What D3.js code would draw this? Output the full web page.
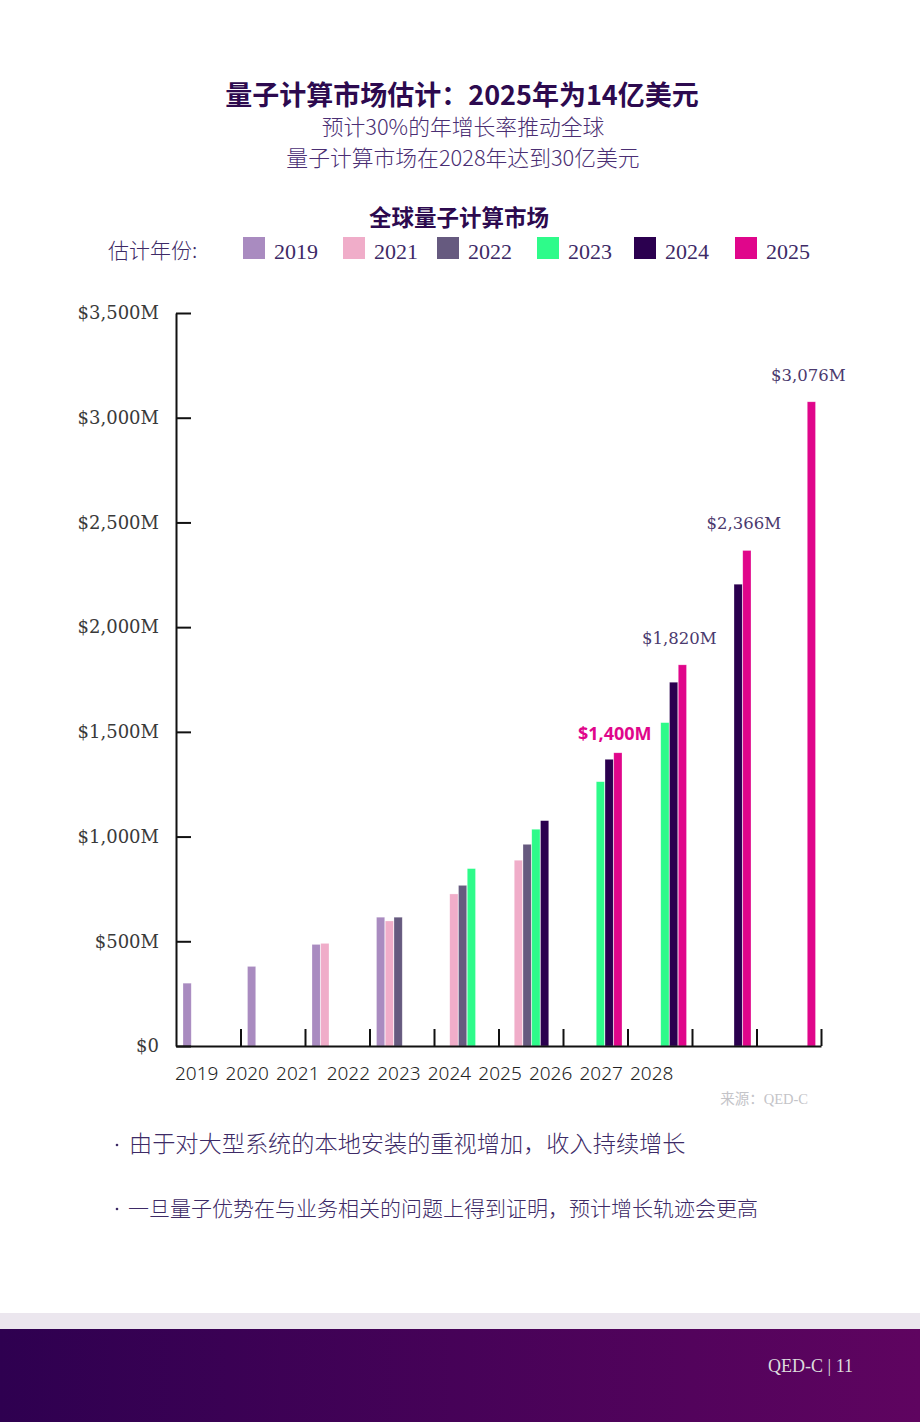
<!DOCTYPE html>
<html>
<head>
<meta charset="utf-8">
<script src="https://cdn.jsdelivr.net/npm/d3@7"></script>
<style>
  body { margin: 0; background: #fff; }
  svg { display: block; }
</style>
</head>
<body>
<svg id="chart" width="920" height="1422"></svg>
<script>
// ---- data ----
const years = ["2019","2020","2021","2022","2023","2024","2025","2026","2027","2028"]
const series = ["2019","2021","2022","2023","2024","2025"]
const seriesColors = ["#a98bc0","#f0adc9","#665a7f","#2efb8a","#2b004f","#e0068b"]
// value per estimate year, indexed by market year (null = no bar)
const est2019 = [300, 380, 485, 615, null, null, null, null, null, null]
const est2021 = [null, null, 490, 597, 726, 887, null, null, null, null]
const est2022 = [null, null, null, 615, 767, 963, null, null, null, null]
const est2023 = [null, null, null, null, 847, 1035, 1262, 1544, null, null]
const est2024 = [null, null, null, null, null, 1076, 1369, 1737, 2205, null]
const est2025 = [null, null, null, null, null, null, 1400, 1820, 2366, 3076]
const yTicks = [0, 500, 1000, 1500, 2000, 2500, 3000, 3500]
const bullets = [
  "由于对大型系统的本地安装的重视增加，收入持续增长",
  "一旦量子优势在与业务相关的问题上得到证明，预计增长轨迹会更高"
]

const estimates = [est2019, est2021, est2022, est2023, est2024, est2025]
const svg = d3.select("#chart")
const cjk = "'Noto Sans CJK SC', 'Noto Sans', sans-serif"
const serif = "'DejaVu Serif', 'Liberation Serif', serif"

// titles
svg.append("text").attr("x",462).attr("y",105).attr("text-anchor","middle")
  .attr("font-family",cjk).attr("font-weight",700).attr("font-size",27).attr("fill","#2d0a4f")
  .text("量子计算市场估计：2025年为14亿美元")
svg.append("text").attr("x",463).attr("y",135).attr("text-anchor","middle")
  .attr("font-family",cjk).attr("font-weight",300).attr("font-size",21.8).attr("fill","#4a2e73")
  .text("预计30%的年增长率推动全球")
svg.append("text").attr("x",463).attr("y",166).attr("text-anchor","middle")
  .attr("font-family",cjk).attr("font-weight",300).attr("font-size",21.8).attr("fill","#4a2e73")
  .text("量子计算市场在2028年达到30亿美元")
svg.append("text").attr("x",459).attr("y",226).attr("text-anchor","middle")
  .attr("font-family",cjk).attr("font-weight",700).attr("font-size",22.5).attr("fill","#2d0a4f")
  .text("全球量子计算市场")

// legend
svg.append("text").attr("x",108).attr("y",258)
  .attr("font-family",cjk).attr("font-weight",300).attr("font-size",21).attr("fill","#3d2a66")
  .text("估计年份:")
const legendX = [243, 343, 437, 537, 634, 735]
const lg = svg.append("g").selectAll("g").data(series).join("g")
  .attr("transform",(d,i)=>`translate(${legendX[i]},237)`)
lg.append("rect").attr("width",22).attr("height",22).attr("fill",(d,i)=>seriesColors[i])
lg.append("text").attr("x",31).attr("y",22)
  .attr("font-family","'Liberation Serif', serif").attr("font-size",22).attr("fill","#3d2a66")
  .text(d=>d)

// scales
const y = d3.scaleLinear().domain([0,3500]).range([1046,313])
const x0 = d3.scaleBand().domain(years).range([176,821])
const x1 = d3.scaleBand().domain(series).range([7,59]).paddingInner(0.06)

// bars
const bars = []
estimates.forEach((arr,si) => arr.forEach((v,yi) => {
  if (v != null) bars.push({year: years[yi], s: series[si], color: seriesColors[si], v: v})
}))
svg.append("g").selectAll("rect").data(bars).join("rect")
  .attr("x",d=>x0(d.year)+x1(d.s)).attr("y",d=>y(d.v))
  .attr("width",x1.bandwidth()).attr("height",d=>y(0)-y(d.v))
  .attr("fill",d=>d.color).attr("stroke","#fff").attr("stroke-opacity",0.45).attr("stroke-width",0.6)

// value labels on the 2025 estimate
est2025.forEach((v,yi) => {
  if (v == null) return
  const cx = x0(years[yi]) + x1("2025") + 1
  const lbl = "$" + d3.format(",")(v) + "M"
  if (years[yi] === "2025") {
    svg.append("text").attr("x",cx).attr("y",y(v)-13).attr("text-anchor","middle")
      .attr("font-family","'Noto Sans', sans-serif").attr("font-weight",700).attr("font-size",18)
      .attr("fill","#e0068b").text(lbl)
  } else {
    svg.append("text").attr("x",cx).attr("y",y(v)-21).attr("text-anchor","middle")
      .attr("font-family",serif).attr("font-size",16.5).attr("fill","#4b3a6e").text(lbl)
  }
})

// y axis
const yAxis = svg.append("g").attr("transform","translate(176,0)")
  .call(d3.axisLeft(y).tickValues(yTicks).tickSizeInner(-15).tickSizeOuter(0).tickPadding(17)
    .tickFormat(d=>"$" + d3.format(",")(d) + (d ? "M" : "")))
yAxis.select(".domain").attr("stroke","#111").attr("stroke-width",2)
yAxis.selectAll(".tick line").attr("stroke","#111").attr("stroke-width",2)
yAxis.selectAll(".tick text").attr("font-family",serif).attr("font-size",18).attr("fill","#3a3a3a")

// x axis: boundary ticks
const xb = d3.scaleLinear().domain([0,years.length]).range([176,821])
const xAxis = svg.append("g").attr("transform","translate(0,1046)")
  .call(d3.axisBottom(xb).tickValues(d3.range(1,years.length+1)).tickSizeInner(-17).tickSizeOuter(0).tickFormat(""))
xAxis.select(".domain").attr("stroke","#111").attr("stroke-width",2)
xAxis.selectAll(".tick line").attr("stroke","#111").attr("stroke-width",2)

// x labels (packed to the left, as in the source)
const xl = d3.scalePoint().domain(years).range([175,630])
svg.append("g").selectAll("text").data(years).join("text")
  .attr("x",d=>xl(d)).attr("y",1080)
  .attr("font-family","'Noto Sans', sans-serif").attr("font-weight",300).attr("font-size",19).attr("fill","#222")
  .text(d=>d)

// source
svg.append("text").attr("x",808).attr("y",1104).attr("text-anchor","end")
  .attr("font-family","'Liberation Serif', 'Noto Sans CJK SC', serif").attr("font-size",14.5).attr("fill","#c4c4c8")
  .text("来源：QED-C")

// bullets
const bl = svg.append("g").selectAll("g").data(bullets).join("g")
  .attr("transform",(d,i)=>`translate(115,${1152 + i*64})`)
bl.append("circle").attr("cx",2).attr("cy",-7).attr("r",1.3).attr("fill","#3d2a66")
bl.append("text").attr("x",(d,i)=>i ? 13 : 14)
  .attr("font-family",cjk).attr("font-weight",300).attr("font-size",(d,i)=>i ? 21 : 23.2).attr("fill","#3d2a66")
  .text(d=>d)

// footer
const defs = svg.append("defs")
const grad = defs.append("linearGradient").attr("id","foot").attr("x1","0%").attr("x2","100%")
grad.append("stop").attr("offset","0%").attr("stop-color","#2e0050")
grad.append("stop").attr("offset","100%").attr("stop-color","#5f0460")
svg.append("rect").attr("x",0).attr("y",1313).attr("width",920).attr("height",16).attr("fill","#ebe6ee")
svg.append("rect").attr("x",0).attr("y",1329).attr("width",920).attr("height",93).attr("fill","url(#foot)")
svg.append("text").attr("x",853).attr("y",1372).attr("text-anchor","end")
  .attr("font-family","'Liberation Serif', serif").attr("font-size",18).attr("fill","#ddd")
  .text("QED-C | 11")
</script>
</body>
</html>
